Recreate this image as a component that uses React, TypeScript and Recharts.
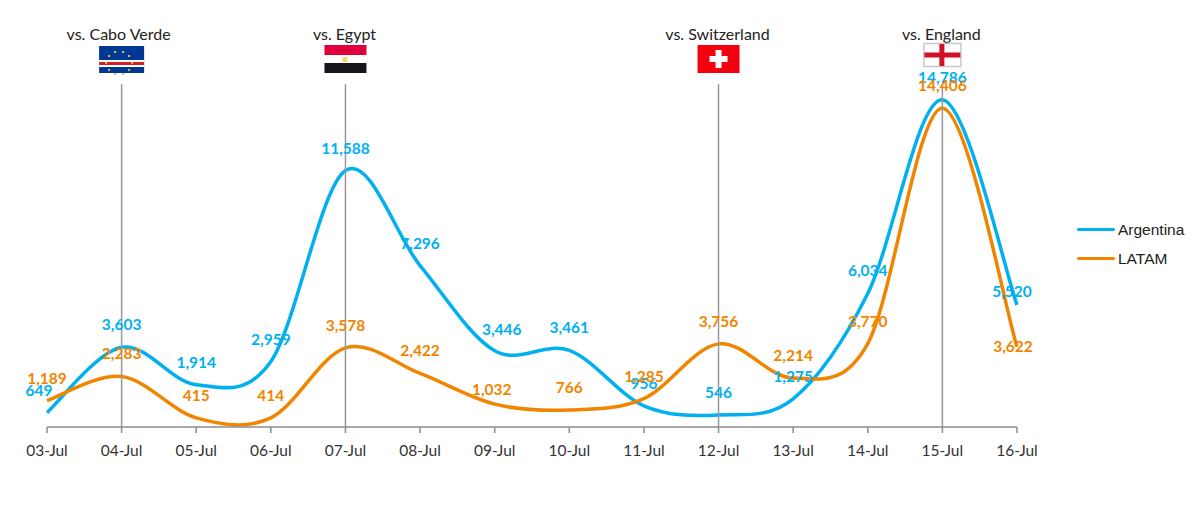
import {
  LabelList,
  Legend,
  Line,
  LineChart,
  ReferenceLine,
  XAxis,
  YAxis,
} from 'recharts';

const days = [
  '03-Jul', '04-Jul', '05-Jul', '06-Jul', '07-Jul', '08-Jul', '09-Jul',
  '10-Jul', '11-Jul', '12-Jul', '13-Jul', '14-Jul', '15-Jul', '16-Jul',
];
const argentina = [649, 3603, 1914, 2959, 11588, 7296, 3446, 3461, 956, 546, 1275, 6034, 14786, 5520];
const latam = [1189, 2283, 415, 414, 3578, 2422, 1032, 766, 1285, 3756, 2214, 3770, 14406, 3622];
const matches = [
  { day: '04-Jul', rival: 'vs. Cabo Verde' },
  { day: '07-Jul', rival: 'vs. Egypt' },
  { day: '12-Jul', rival: 'vs. Switzerland' },
  { day: '15-Jul', rival: 'vs. England' },
];

const data = days.map((day, i) => ({ day, Argentina: argentina[i], LATAM: latam[i] }));

const BLUE = '#00b0f0';
const ORANGE = '#f18500';
const CALIBRI = 'Lato, sans-serif';

// excel style smoothed line, recharts takes a d3 curve factory as type
const excelCurve = (ctx: any) => {
  let pts: number[][] = [];
  return {
    areaStart() {},
    areaEnd() {},
    lineStart() {
      pts = [];
    },
    point(x: number, y: number) {
      pts.push([x, y]);
    },
    lineEnd() {
      pts.forEach((p, i) => {
        if (i === 0) {
          ctx.moveTo(p[0], p[1]);
          return;
        }
        const p0 = pts[i - 2] ?? pts[i - 1];
        const p1 = pts[i - 1];
        const p3 = pts[i + 1] ?? p;
        ctx.bezierCurveTo(
          p1[0] + (p[0] - p0[0]) / 6,
          p1[1] + (p[1] - p0[1]) / 6,
          p[0] - (p3[0] - p1[0]) / 6,
          p[1] - (p3[1] - p1[1]) / 6,
          p[0],
          p[1],
        );
      });
    },
  };
};

const Flag = ({ rival, cx }: { rival: string; cx: number }) => {
  if (rival === 'vs. Cabo Verde') {
    const stars = [[-13, 0], [-10, -7], [-4, -11], [4, -11], [10, -7], [13, 0], [10, 7], [4, 11], [-4, 11], [-10, 7]];
    return (
      <g transform={`translate(${cx - 22.5},46)`}>
        <rect width={45} height={27} fill="#003893" />
        <rect y={14} width={45} height={7} fill="#fff" />
        <rect y={16} width={45} height={3} fill="#cf2027" />
        {stars.map(([dx, dy], i) => (
          <rect key={i} x={19 + dx} y={16 + dy} width={2} height={2} fill="#d9c04a" />
        ))}
      </g>
    );
  }
  if (rival === 'vs. Egypt') {
    return (
      <g transform={`translate(${cx - 21},45)`}>
        <rect width={42} height={10} fill="#e0003c" />
        <rect y={18} width={42} height={10} fill="#17171b" />
        <rect x={18} y={12} width={5} height={5} fill="#f5d76e" />
      </g>
    );
  }
  if (rival === 'vs. Switzerland') {
    return (
      <g transform={`translate(${cx - 21},45)`}>
        <rect width={42} height={28} fill="#f5000f" />
        <rect x={18} y={5} width={6} height={18} fill="#fff" />
        <rect x={12} y={11} width={18} height={6} fill="#fff" />
      </g>
    );
  }
  return (
    <g transform={`translate(${cx - 19},43)`}>
      <rect x={0.5} y={0.5} width={37} height={23} fill="#fff" stroke="#c8c8c8" strokeWidth={1.5} />
      <rect x={16} y={1} width={5} height={22} fill="#ce1126" />
      <rect x={1} y={9.5} width={36} height={5} fill="#ce1126" />
    </g>
  );
};

const MatchLabel = ({ viewBox, rival }: any) => {
  const cx = viewBox.x;
  return (
    <g>
      <text
        x={cx + (rival === 'vs. Cabo Verde' ? -3 : -1)}
        y={33}
        textAnchor="middle"
        dominantBaseline="central"
        fontFamily={CALIBRI}
        fontSize={16}
        fill="#222"
      >
        {rival}
      </text>
      <Flag rival={rival} cx={cx} />
    </g>
  );
};

// labels sit above the point, a few were dragged by hand in the original
const blueNudge: Record<number, number[]> = { 0: [-8, 0], 6: [7, 1], 13: [-5, 9] };
const orangeNudge: Record<number, number[]> = { 6: [-3, 8], 13: [-4, 22] };

const pointLabel = (color: string, nudge: Record<number, number[]>) => (props: any) => {
  const [dx, dy] = nudge[props.index] ?? [0, 0];
  return (
    <text
      x={props.x + dx}
      y={props.y - 23 + dy}
      textAnchor="middle"
      dominantBaseline="central"
      fontFamily={CALIBRI}
      fontSize={15.5}
      fontWeight={700}
      fill={color}
    >
      {Number(props.value).toLocaleString('en-US')}
    </text>
  );
};

const ChartLegend = ({ payload }: any) => (
  <div style={{ fontFamily: '"Liberation Sans", Arial, sans-serif', fontSize: 15.5, color: '#222' }}>
    {(payload ?? []).map((item: any) => (
      <div key={item.value} style={{ display: 'flex', alignItems: 'center', height: 29 }}>
        <span style={{ width: 38, height: 3.5, borderRadius: 2, background: item.color, marginRight: 3 }} />
        {item.value}
      </div>
    ))}
  </div>
);

export default function App() {
  return (
    <div style={{ position: 'absolute', left: 0, top: 0 }}>
      <LineChart
        width={1203}
        height={517}
        data={data}
        margin={{ top: 84, right: 66, bottom: 60, left: 47 }}
      >
        <XAxis
          dataKey="day"
          interval={0}
          height={30}
          stroke="#8c8c8c"
          strokeWidth={1.5}
          tickSize={6}
          tick={{ fill: '#333', fontFamily: CALIBRI, fontSize: 15.5 }}
          tickMargin={12}
        />
        <YAxis hide domain={[0, 15500]} />
        <Legend
          layout="vertical"
          align="right"
          verticalAlign="top"
          content={ChartLegend}
          wrapperStyle={{ left: 1077, top: 215, width: 120 }}
        />
        <Line
          dataKey="Argentina"
          type={excelCurve as any}
          stroke={BLUE}
          strokeWidth={3.5}
          dot={false}
          isAnimationActive={false}
        >
          <LabelList dataKey="Argentina" content={pointLabel(BLUE, blueNudge)} />
        </Line>
        <Line
          dataKey="LATAM"
          type={excelCurve as any}
          stroke={ORANGE}
          strokeWidth={3.5}
          dot={false}
          isAnimationActive={false}
        >
          <LabelList dataKey="LATAM" content={pointLabel(ORANGE, orangeNudge)} />
        </Line>
        {matches.map((m) => (
          <ReferenceLine
            key={m.day}
            x={m.day}
            stroke="#999"
            strokeWidth={1.5}
            label={<MatchLabel rival={m.rival} />}
          />
        ))}
      </LineChart>
    </div>
  );
}
